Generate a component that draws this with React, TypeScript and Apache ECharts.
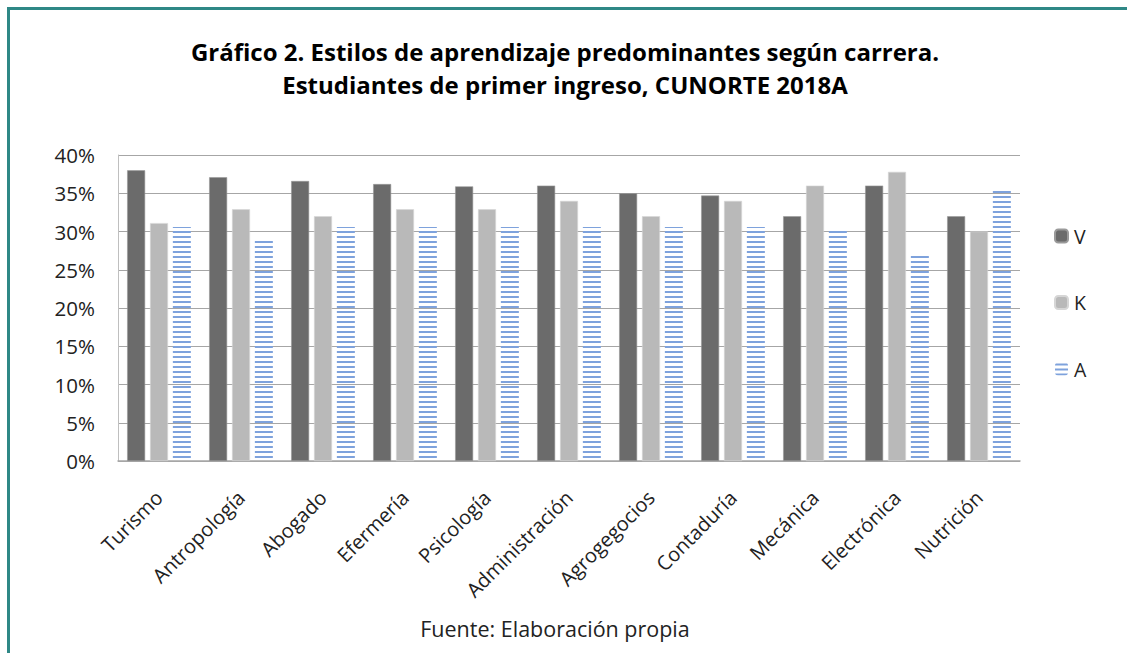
import React, { useEffect, useRef } from "react";
import * as echarts from "echarts";

const categories = [
  "Turismo",
  "Antropología",
  "Abogado",
  "Efermería",
  "Psicología",
  "Administración",
  "Agrogegocios",
  "Contaduría",
  "Mecánica",
  "Electrónica",
  "Nutrición",
];
const seriesV = [38.0, 37.1, 36.6, 36.2, 35.9, 36.0, 35.0, 34.7, 32.0, 36.0, 32.0];
const seriesK = [31.1, 32.9, 32.0, 32.9, 32.9, 34.0, 32.0, 34.0, 36.0, 37.8, 30.0];
const seriesA = [30.6, 28.8, 30.6, 30.6, 30.6, 30.6, 30.6, 30.6, 30.1, 26.8, 35.6];
const yTicks = [0, 5, 10, 15, 20, 25, 30, 35, 40];

function makeStripe(): HTMLCanvasElement {
  const c = document.createElement("canvas");
  c.width = 8;
  c.height = 5;
  const ctx = c.getContext("2d")!;
  ctx.clearRect(0, 0, 8, 5);
  ctx.fillStyle = "#7ea2dc";
  ctx.fillRect(0, 1, 8, 2);
  return c;
}

export default function App() {
  const ref = useRef<HTMLDivElement>(null);
  useEffect(() => {
    if (!ref.current) return;
    const chart = echarts.init(ref.current, null, { renderer: "svg" });
    const stripe = makeStripe();
    const font = "'Open Sans', 'Noto Sans', sans-serif";
    chart.setOption({
      animation: false,
      backgroundColor: "#ffffff",
      title: {
        text: "Gráfico 2. Estilos de aprendizaje predominantes según carrera.\nEstudiantes de primer ingreso, CUNORTE 2018A",
        left: 560,
        textAlign: "center",
        top: 30,
        textStyle: {
          fontFamily: font,
          fontWeight: "bold",
          fontSize: 24,
          lineHeight: 33,
          color: "#000000",
        },
      },
      legend: {
        orient: "vertical",
        left: 1054,
        top: 226,
        padding: 0,
        itemWidth: 13,
        itemHeight: 13,
        itemGap: 46.5,
        textStyle: { fontFamily: font, fontSize: 19.5, color: "#222", padding: [0, 0, 0, 1] },
        data: ["V", "K", "A"],
      },
      grid: { left: 118, right: 107, top: 155, bottom: 192, containLabel: false },
      xAxis: {
        type: "category",
        data: categories,
        axisTick: { show: false },
        axisLine: { lineStyle: { color: "#a6a6a6", width: 1.5 } },
        axisLabel: {
          rotate: 45,
          interval: 0,
          margin: 33,
          fontFamily: font,
          fontSize: 20,
          color: "#222",
        },
      },
      yAxis: {
        type: "value",
        min: 0,
        max: 40,
        interval: 5,
        axisLine: { show: true, lineStyle: { color: "#bfbfbf" } },
        axisTick: { show: false },
        splitLine: { lineStyle: { color: "#a6a6a6", width: 1.2 } },
        axisLabel: {
          margin: 23,
          fontFamily: font,
          fontSize: 20.5,
          color: "#222",
          formatter: (v: number) => (yTicks.includes(v) ? v + "%" : ""),
        },
      },
      series: [
        {
          name: "V",
          type: "bar",
          data: seriesV,
          barWidth: 18,
          barGap: "27%",
          itemStyle: { color: "#6b6b6b", borderColor: "#9a9a9a", borderWidth: 0.6 },
        },
        {
          name: "K",
          type: "bar",
          data: seriesK,
          barWidth: 18,
          barGap: "27%",
          itemStyle: { color: "#b9b9b9", borderColor: "#d6d6d6", borderWidth: 0.6 },
        },
        {
          name: "A",
          type: "bar",
          data: seriesA,
          barWidth: 18,
          barGap: "27%",
          itemStyle: { color: { image: stripe, repeat: "repeat" } as any },
        },
      ],
      graphic: [
        { type: "rect", shape: { x: 7, y: 7, width: 1120, height: 3 }, style: { fill: "#2f8886" } },
        { type: "rect", shape: { x: 7, y: 7, width: 3, height: 646 }, style: { fill: "#2f8886" } },
        {
          type: "text",
          x: 555,
          y: 628,
          style: {
            text: "Fuente: Elaboración propia",
            fontFamily: font,
            fontSize: 21.5,
            fill: "#222",
            align: "center",
            verticalAlign: "middle",
          },
        },
      ],
    });
    return () => chart.dispose();
  }, []);
  return (
    <div
      ref={ref}
      style={{ position: "fixed", left: 0, top: 0, width: 1127, height: 653 }}
    />
  );
}
